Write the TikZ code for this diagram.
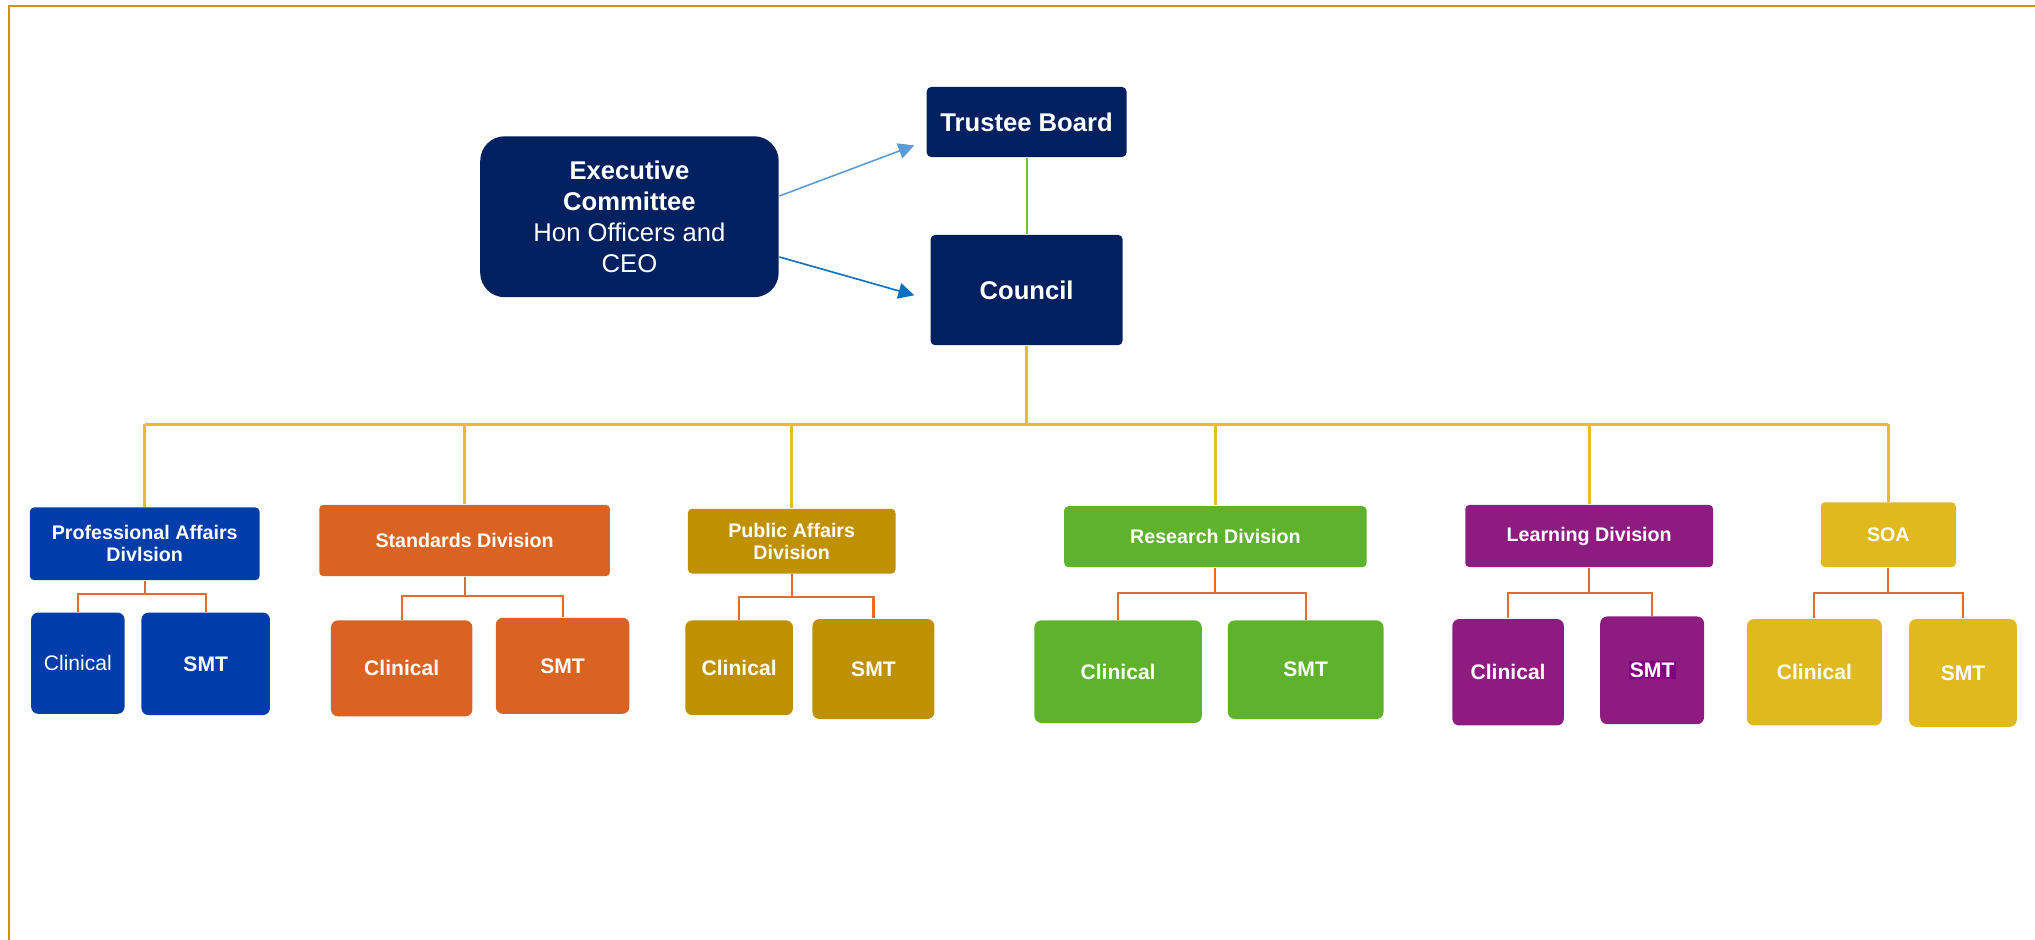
\documentclass[tikz,border=0pt]{standalone}
\usepackage{fontspec}
\setmainfont{Liberation Sans}
\usetikzlibrary{arrows.meta,calc}
\definecolor{navy}{RGB}{0,32,96}
\definecolor{pablue}{RGB}{0,61,170}
\definecolor{stdorange}{RGB}{217,99,35}
\definecolor{pubgold}{RGB}{191,144,0}
\definecolor{resgreen}{RGB}{95,178,44}
\definecolor{learnpurple}{RGB}{142,28,128}
\definecolor{soayellow}{RGB}{224,185,30}
\definecolor{smthl}{RGB}{128,0,128}
\definecolor{bordergold}{RGB}{200,150,0}
\definecolor{busyellow}{RGB}{230,190,40}
\definecolor{bracketorange}{RGB}{228,108,46}
\definecolor{linkgreen}{RGB}{112,190,64}
\definecolor{arrowlight}{RGB}{91,155,213}
\definecolor{arrowdark}{RGB}{0,112,192}
\def\pu{0.012978cm}
\tikzset{
  sz/.style n args={2}{minimum width=#1*\pu, minimum height=#2*\pu},
  basebox/.style={draw=none, text=white, inner sep=0pt, align=center},
  topbox/.style={basebox, fill=navy, rounded corners=1.3pt, font=\fontsize{7.3}{8.8}\selectfont\bfseries},
  execbox/.style={basebox, fill=navy, rounded corners=7pt, font=\fontsize{7.3}{8.8}\selectfont},
  divbox/.style={basebox, rounded corners=1.2pt, font=\fontsize{5.6}{6.2}\selectfont\bfseries},
  childbox/.style={basebox, rounded corners=2pt, font=\fontsize{6}{7}\selectfont\bfseries},
  bus/.style={draw=busyellow, line width=0.75pt},
  br/.style={draw=bracketorange, line width=0.6pt},
  bordline/.style={draw=bordergold, line width=0.65pt},
  arr/.style={line width=0.45pt, -{Triangle[length=4.5pt,width=4.5pt]}}
}
\begin{document}
\begin{tikzpicture}[x=0.012978cm, y=-0.012978cm]
\useasboundingbox (0,0) rectangle (1568,724);
% border
\draw[bordline] (6.9,724) -- (6.9,4.6) -- (1568,4.6);

% top level
\node[execbox, sz={230}{124}] (exec) at (485,167) {\textbf{Executive}\\\textbf{Committee}\\Hon Officers and\\CEO};
\node[topbox, sz={154}{54}] (trustee) at (791,94) {Trustee Board};
\node[topbox, sz={148}{85}] (council) at (791,223.5) {Council};

\draw[arr, draw=arrowlight, fill=arrowlight] ($(exec.east)+(0,-16)$) -- ($(trustee.west)+(-9,18)$);
\draw[arr, draw=arrowdark, fill=arrowdark] ($(exec.east)+(0,31)$) -- ($(council.west)+(-12,4)$);
\draw[draw=linkgreen, line width=0.6pt] (trustee.south) -- (council.north);

% divisions
\node[divbox, fill=pablue, sz={177}{56}] (pad) at (111.5,419) {Professional Affairs\\Divlsion};
\node[divbox, fill=stdorange, sz={224}{55}] (std) at (358,416.5) {Standards Division};
\node[divbox, fill=pubgold, sz={160}{50}] (pub) at (610,417) {Public Affairs\\Division};
\node[divbox, fill=resgreen, sz={233}{47}] (res) at (936.5,413.5) {Research Division};
\node[divbox, fill=learnpurple, sz={191}{48}] (learn) at (1224.5,413) {Learning Division};
\node[divbox, fill=soayellow, sz={104}{50}] (soa) at (1455,412) {SOA};

% bus
\coordinate (bus) at (791,327);
\draw[bus] (council.south) -- (council.south |- bus);
\draw[bus] (pad.north |- bus) -- (soa.north |- bus);
\foreach \d in {pad,std,pub,res,learn,soa} {
  \draw[bus] (\d.north) -- (\d.north |- bus);
}

% children
\node[childbox, fill=pablue, sz={72}{78}, font=\fontsize{6}{7}\selectfont] (padC) at (60,511) {Clinical};
\node[childbox, fill=pablue, sz={99}{79}] (padS) at (158.5,511.5) {SMT};
\node[childbox, fill=stdorange, sz={109}{74}] (stdC) at (309.5,515) {Clinical};
\node[childbox, fill=stdorange, sz={103}{74}] (stdS) at (433.5,513) {SMT};
\node[childbox, fill=pubgold, sz={83}{73}] (pubC) at (569.5,514.5) {Clinical};
\node[childbox, fill=pubgold, sz={94}{77}] (pubS) at (673,515.5) {SMT};
\node[childbox, fill=resgreen, sz={129}{79}] (resC) at (861.5,517.5) {Clinical};
\node[childbox, fill=resgreen, sz={120}{76}] (resS) at (1006,516) {SMT};
\node[childbox, fill=learnpurple, sz={86}{82}] (learnC) at (1162,518) {Clinical};
\node[childbox, fill=learnpurple, sz={80}{83}] (learnS) at (1273,516.5) {\setlength{\fboxsep}{0.4pt}\colorbox{smthl}{SMT}};
\node[childbox, fill=soayellow, sz={104}{82}] (soaC) at (1398,518) {Clinical};
\node[childbox, fill=soayellow, sz={83}{83}] (soaS) at (1512.5,518.5) {SMT};

% brackets
\coordinate (padbar) at (0,458);
\coordinate (stdbar) at (0,459);
\coordinate (pubbar) at (0,460);
\coordinate (resbar) at (0,457);
\coordinate (learnbar) at (0,457);
\coordinate (soabar) at (0,457);
\foreach \d in {pad,std,pub,res,learn,soa} {
  \draw[br] (\d.south) -- (\d.south |- \d bar);
  \draw[br] (\d C.north) -- (\d C.north |- \d bar) -- (\d S.north |- \d bar) -- (\d S.north);
}
\end{tikzpicture}
\end{document}
